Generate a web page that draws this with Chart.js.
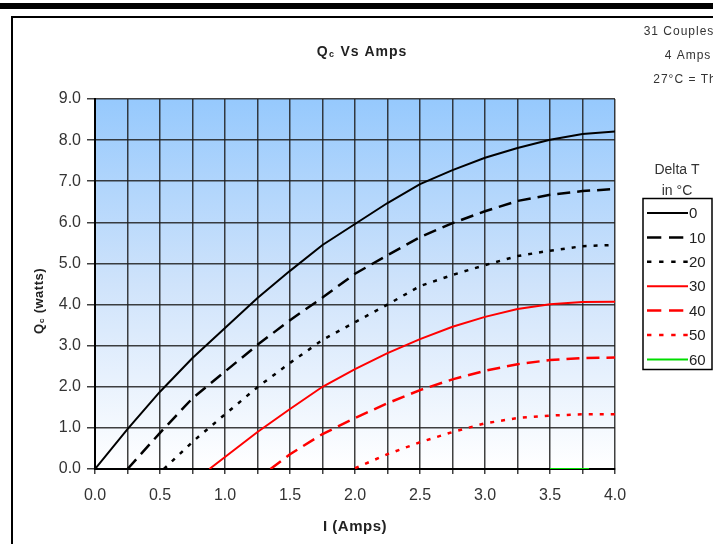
<!DOCTYPE html>
<html><head><meta charset="utf-8">
<script src="https://cdn.jsdelivr.net/npm/chart.js@4"></script>
<style>html,body{margin:0;padding:0;background:#fff;overflow:hidden}canvas{display:block}</style>
</head><body>
<canvas id="c" width="713" height="544"></canvas>
<script>
// ---- data (I in amps, Qc in watts) ----
const amps0  = [0,0.25,0.5,0.75,1.0,1.25,1.5,1.75,2.0,2.25,2.5,2.75,3.0,3.25,3.5,3.75,4.0];
const qc0    = [0,0.97,1.88,2.7,3.43,4.16,4.82,5.45,5.96,6.47,6.93,7.27,7.57,7.81,8.01,8.15,8.21];
const amps10 = [0.25,0.5,0.75,1.0,1.25,1.5,1.75,2.0,2.25,2.5,2.75,3.0,3.25,3.5,3.75,4.0];
const qc10   = [0,0.88,1.72,2.37,3.02,3.62,4.17,4.75,5.2,5.64,5.98,6.27,6.52,6.67,6.76,6.81];
const amps20 = [0.53,0.75,1.0,1.25,1.5,1.75,2.0,2.25,2.5,2.75,3.0,3.25,3.5,3.75,4.0];
const qc20   = [0,0.66,1.33,1.99,2.58,3.14,3.57,4.0,4.45,4.72,4.96,5.18,5.31,5.42,5.45];
const amps30 = [0.88,1.0,1.25,1.5,1.75,2.0,2.25,2.5,2.75,3.0,3.25,3.5,3.75,4.0];
const qc30   = [0,0.29,0.9,1.46,2.0,2.43,2.82,3.16,3.46,3.7,3.89,4.01,4.06,4.07];
const amps40 = [1.35,1.5,1.75,2.0,2.25,2.5,2.75,3.0,3.25,3.5,3.75,4.0];
const qc40   = [0,0.36,0.85,1.24,1.6,1.92,2.18,2.39,2.55,2.65,2.7,2.71];
const amps50 = [2.0,2.25,2.5,2.75,3.0,3.25,3.5,3.75,4.0];
const qc50   = [0.02,0.36,0.65,0.9,1.11,1.24,1.3,1.33,1.33];
const amps60 = [3.5,3.8];
const qc60   = [0,0];
const seriesLabels = ['0','10','20','30','40','50','60'];
const xTickLabels = ['0.0','0.5','1.0','1.5','2.0','2.5','3.0','3.5','4.0'];
const yTickLabels = ['0.0','1.0','2.0','3.0','4.0','5.0','6.0','7.0','8.0','9.0'];
const infoLines = ['31 Couples','4 Amps','27\u00B0C = Th'];

function pts(xs, ys){ return xs.map((x,i)=>({x:x,y:ys[i]})); }

const styles = [
  {c:'#000000', d:[],     w:2},
  {c:'#000000', d:[13,7], w:2.5},
  {c:'#000000', d:[4,7],  w:2.5},
  {c:'#ff0000', d:[],     w:2},
  {c:'#ff0000', d:[13,7], w:2.5},
  {c:'#ff0000', d:[4,7],  w:2.5},
  {c:'#00dd00', d:[],     w:2}
];
const allX = [amps0,amps10,amps20,amps30,amps40,amps50,amps60];
const allY = [qc0,qc10,qc20,qc30,qc40,qc50,qc60];
const datasets = seriesLabels.map((lab,i)=>({
  label: lab,
  data: pts(allX[i], allY[i]),
  borderColor: styles[i].c,
  backgroundColor: styles[i].c,
  borderDash: styles[i].d,
  borderWidth: styles[i].w,
  pointRadius: 0,
  tension: 0,
  fill: false
}));

const FONT = '"Liberation Sans", Arial, sans-serif';

const bgPlugin = {
  id:'bg',
  beforeDraw(chart){
    const {ctx, chartArea:a} = chart;
    const g = ctx.createLinearGradient(0,a.top,0,a.bottom);
    g.addColorStop(0,'#96c9fd');
    g.addColorStop(0.5,'#cfe3fb');
    g.addColorStop(1,'#ffffff');
    ctx.save(); ctx.fillStyle = g;
    ctx.fillRect(a.left,a.top,a.right-a.left,a.bottom-a.top);
    ctx.restore();
  }
};

function setLS(ctx, v){ if (ctx.letterSpacing !== undefined) ctx.letterSpacing = v; }

const decoPlugin = {
  id:'deco',
  afterDraw(chart){
    const ctx = chart.ctx, a = chart.chartArea;
    ctx.save();
    // outer frame
    ctx.fillStyle = '#000';
    ctx.fillRect(0,3,713,6);
    ctx.strokeStyle = '#000'; ctx.lineWidth = 2;
    ctx.beginPath(); ctx.moveTo(12,544); ctx.lineTo(12,17); ctx.lineTo(713,17); ctx.stroke();

    // title
    ctx.fillStyle = '#222'; ctx.textBaseline = 'alphabetic';
    setLS(ctx,'1px');
    ctx.font = 'bold 14px ' + FONT;
    const cx = (a.left + a.right)/2 + 7;
    const w1 = ctx.measureText('Q').width;
    ctx.font = 'bold 9px ' + FONT; const w2 = ctx.measureText('c').width;
    ctx.font = 'bold 14px ' + FONT; const w3 = ctx.measureText(' Vs Amps').width;
    let sx = cx - (w1+w2+w3+1)/2, by = 56;
    ctx.textAlign = 'left';
    ctx.fillText('Q', sx, by);
    ctx.font = 'bold 9px ' + FONT; ctx.fillText('c', sx+w1+0.5, by+1);
    ctx.font = 'bold 14px ' + FONT; ctx.fillText(' Vs Amps', sx+w1+w2+1, by);

    // info lines (top right)
    ctx.font = '12px ' + FONT; ctx.fillStyle = '#333'; ctx.textAlign = 'center';
    setLS(ctx,'1px');
    ctx.fillText(infoLines[0], 679, 35);
    ctx.fillText(infoLines[1], 688, 59);
    ctx.fillText(infoLines[2], 685, 83);

    // x title
    setLS(ctx,'0.5px');
    ctx.font = 'bold 15px ' + FONT; ctx.fillStyle = '#222';
    ctx.textAlign = 'center';
    ctx.fillText('I (Amps)', (a.left+a.right)/2, 531);

    // y title rotated
    ctx.save();
    ctx.translate(43, 301); ctx.rotate(-Math.PI/2);
    ctx.font = 'bold 13px ' + FONT;
    const q1 = ctx.measureText('Q').width;
    ctx.font = 'bold 8px ' + FONT; const q2 = ctx.measureText('c').width;
    ctx.font = 'bold 13px ' + FONT; const q3 = ctx.measureText(' (watts)').width;
    let tx = -(q1+q2+q3+1)/2;
    ctx.textAlign = 'left';
    ctx.fillText('Q', tx, 0);
    ctx.font = 'bold 8px ' + FONT; ctx.fillText('c', tx+q1+0.5, 1);
    ctx.font = 'bold 13px ' + FONT; ctx.fillText(' (watts)', tx+q1+q2+1, 0);
    ctx.restore();
    setLS(ctx,'0px');

    // legend
    ctx.font = '14px ' + FONT; ctx.fillStyle = '#333'; ctx.textAlign = 'center';
    ctx.fillText('Delta T', 677, 174);
    ctx.fillText('in \u00B0C', 677, 195);
    ctx.fillStyle = '#fff';
    ctx.fillRect(643, 198, 69, 171);
    ctx.strokeStyle = '#000'; ctx.lineWidth = 1.5;
    ctx.strokeRect(643, 198.5, 69, 171);
    chart.data.datasets.forEach((ds,i)=>{
      const y = 213 + i*24.4;
      ctx.strokeStyle = ds.borderColor; ctx.lineWidth = ds.borderWidth;
      ctx.setLineDash(ds.borderDash.length ? ds.borderDash.map(v=>v*1.1) : []);
      ctx.beginPath(); ctx.moveTo(647, y); ctx.lineTo(688, y); ctx.stroke();
      ctx.setLineDash([]);
      ctx.fillStyle = '#222'; ctx.textAlign = 'left'; ctx.textBaseline = 'middle';
      ctx.font = '15px ' + FONT;
      ctx.fillText(ds.label, 689, y + 1);
    });
    ctx.restore();
  }
};

new Chart(document.getElementById('c').getContext('2d'), {
  type: 'line',
  data: { datasets: datasets },
  options: {
    responsive: false,
    animation: false,
    devicePixelRatio: 1,
    layout: { padding: { top: 99, right: 98, left: 0, bottom: 0 } },
    plugins: { legend: { display: false }, title: { display: false }, tooltip: { enabled: false } },
    scales: {
      x: {
        type: 'linear', min: 0, max: 4,
        afterFit(s){ s.height = 75; },
        afterBuildTicks(s){ s.ticks = []; for (let k=0;k<=16;k++) s.ticks.push({value:k*0.25}); },
        ticks: {
          autoSkip: false, maxRotation: 0, padding: 12, color: '#333',
          font: { family: FONT, size: 16 },
          callback(v){ const i = Math.round(v*2); return (Math.abs(v*2 - i) < 1e-6) ? xTickLabels[i] : ''; }
        },
        grid: { color: 'rgba(30,30,30,0.85)', lineWidth: 1.5, tickLength: 5, drawTicks: true },
        border: { color: '#000', width: 2 }
      },
      y: {
        type: 'linear', min: 0, max: 9,
        afterFit(s){ s.width = 95; },
        ticks: {
          stepSize: 1, padding: 6, color: '#333',
          font: { family: FONT, size: 16 },
          callback(v){ return yTickLabels[Math.round(v)]; }
        },
        grid: { color: 'rgba(30,30,30,0.85)', lineWidth: 1.5, tickLength: 8, drawTicks: true },
        border: { color: '#000', width: 2 }
      }
    }
  },
  plugins: [bgPlugin, decoPlugin]
});
</script>
</body></html>
